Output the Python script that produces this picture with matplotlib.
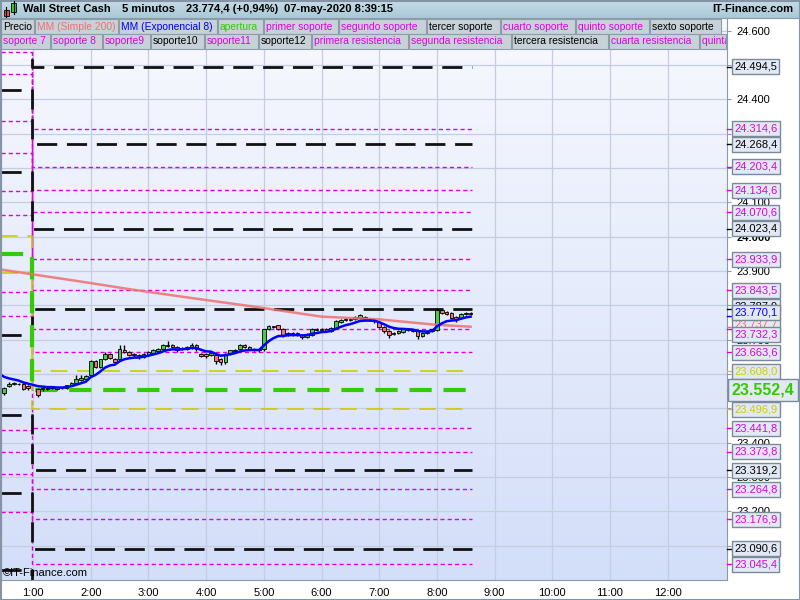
import numpy as np
import matplotlib
matplotlib.use("Agg")
import matplotlib.pyplot as plt
import matplotlib.transforms as mtransforms
from matplotlib.patches import Rectangle
from matplotlib.colors import LinearSegmentedColormap

plt.rcParams['font.family'] = ['Liberation Sans', 'DejaVu Sans']
plt.rcParams['lines.scale_dashes'] = False

# ---- data --------------------------------------------------------------
# bar index = 5-minute bars counted from 1:00 (negative = previous session)
bar_idx = list(range(-6, 0)) + list(range(1, 92))
bar_open = [23546, 23565, 23571, 23572, 23570, 23566,
            23555.0, 23555.0, 23559.8, 23557.9, 23560.8, 23557.9, 23558.8, 23566.6, 23574.4, 23581.2,
            23584.1, 23595.7, 23636.5, 23620.0, 23642.3, 23656.9, 23644.3, 23642.3, 23668.6, 23663.7,
            23658.9, 23655.9, 23649.2, 23655.9, 23661.8, 23665.7, 23673.4, 23681.2, 23685.1, 23678.3,
            23673.4, 23673.4, 23675.4, 23683.1, 23658.9, 23657.0, 23654.0, 23654.0, 23644.3, 23634.6,
            23658.9, 23665.7, 23671.5, 23683.1, 23678.3, 23673.4, 23671.5, 23673.4, 23729.7, 23738.5,
            23741.4, 23731.7, 23712.3, 23719.1, 23720.0, 23714.2, 23707.4, 23714.2, 23729.7, 23726.8,
            23729.7, 23723.9, 23733.6, 23751.1, 23756.0, 23760.8, 23758.9, 23762.8, 23765.7, 23758.9,
            23756.0, 23751.1, 23736.5, 23723.9, 23717.1, 23719.1, 23722.0, 23729.7, 23727.8, 23726.8,
            23710.3, 23719.1, 23723.9, 23726.8, 23785.1, 23780.2, 23777.3, 23765.7, 23762.8, 23775.4,
            23778.3]
bar_close = [23558, 23572, 23573, 23570, 23556, 23559,
             23539.4, 23558.8, 23556.0, 23561.8, 23556.9, 23559.8, 23566.6, 23573.4, 23584.1, 23588.0,
             23593.8, 23636.5, 23620.0, 23642.3, 23658.9, 23646.2, 23634.6, 23671.5, 23663.7, 23655.9,
             23654.0, 23649.2, 23658.9, 23663.7, 23668.6, 23673.4, 23683.1, 23685.1, 23678.3, 23668.6,
             23675.4, 23678.3, 23685.1, 23673.4, 23652.1, 23651.0, 23661.8, 23636.5, 23634.6, 23658.9,
             23668.6, 23670.5, 23683.1, 23678.3, 23673.4, 23671.5, 23668.6, 23729.7, 23738.5, 23735.6,
             23731.7, 23712.3, 23720.0, 23715.2, 23714.2, 23707.4, 23717.1, 23729.7, 23726.8, 23731.7,
             23725.9, 23733.6, 23753.0, 23757.9, 23758.9, 23756.0, 23765.7, 23770.5, 23758.9, 23756.0,
             23753.0, 23736.5, 23723.9, 23714.2, 23719.1, 23723.9, 23729.7, 23726.8, 23725.9, 23710.3,
             23720.0, 23723.0, 23729.7, 23785.1, 23778.3, 23775.4, 23762.8, 23760.8, 23775.4, 23778.3,
             23774.4]
bar_high = [23562, 23577, 23576, 23575, 23573, 23569,
            23558.8, 23561.8, 23562.5, 23564.0, 23563.0, 23562.0, 23569.0, 23577.0, 23597.7, 23598.0,
            23597.0, 23639.4, 23640.0, 23645.0, 23663.7, 23660.0, 23647.0, 23683.1, 23685.1, 23667.0,
            23662.0, 23659.0, 23661.8, 23666.0, 23672.0, 23677.0, 23686.5, 23694.8, 23688.0, 23681.0,
            23678.0, 23681.0, 23689.0, 23688.0, 23662.0, 23660.0, 23664.0, 23657.0, 23647.0, 23661.0,
            23671.0, 23673.0, 23686.0, 23686.0, 23681.0, 23676.0, 23674.0, 23732.0, 23742.0, 23741.0,
            23744.0, 23734.0, 23723.0, 23722.0, 23723.0, 23717.0, 23720.0, 23733.0, 23733.0, 23735.0,
            23733.0, 23737.0, 23756.0, 23761.0, 23762.0, 23764.0, 23769.0, 23775.0, 23768.0, 23762.0,
            23759.0, 23754.0, 23739.0, 23727.0, 23722.0, 23727.0, 23732.0, 23733.0, 23731.0, 23729.0,
            23723.0, 23726.0, 23732.0, 23792.0, 23790.0, 23783.0, 23780.0, 23768.0, 23778.0, 23781.0,
            23781.0]
bar_low = [23538, 23561, 23568, 23567, 23552, 23554,
           23532.6, 23551.0, 23553.0, 23555.5, 23554.0, 23555.8, 23556.5, 23564.0, 23571.0, 23578.5,
           23582.0, 23593.8, 23617.0, 23618.0, 23640.0, 23643.0, 23631.5, 23639.4, 23660.0, 23652.0,
           23650.0, 23642.3, 23646.5, 23653.0, 23659.5, 23663.0, 23671.0, 23679.0, 23676.0, 23665.0,
           23670.0, 23671.0, 23673.0, 23666.0, 23649.0, 23646.0, 23651.0, 23630.0, 23627.0, 23630.0,
           23656.0, 23663.0, 23669.0, 23675.0, 23670.0, 23668.0, 23665.0, 23668.0, 23727.0, 23733.0,
           23729.0, 23709.0, 23710.0, 23712.0, 23711.0, 23702.0, 23705.0, 23712.0, 23724.0, 23724.0,
           23722.0, 23721.0, 23731.0, 23749.0, 23753.0, 23753.0, 23756.0, 23760.0, 23756.0, 23753.0,
           23749.0, 23733.0, 23720.0, 23706.0, 23713.0, 23716.0, 23719.0, 23724.0, 23723.0, 23703.0,
           23708.0, 23716.0, 23721.0, 23724.0, 23775.0, 23772.0, 23759.0, 23752.0, 23760.0, 23773.0,
           23771.0]

ema_seed = 23601.0          # EMA(8) at the left edge of the chart
ema_last = 23770.1
sma_idx = [-7, 0, 10, 21, 31, 45, 60, 72, 84, 91]
sma_val = [23905, 23890, 23869, 23845, 23825, 23798, 23767, 23759, 23743, 23737.7]

# support / resistance levels: previous session -> today
black_prev = [24700.0, 24427.0, 24188.2, 23713.6, 23480.6, 23252.6, 23029.2]
black_now = [24494.5, 24268.4, 24023.4, 23787.9, 23319.2, 23090.6, 22870.0]
magenta_prev = [24680.0, 24537.7, 24473.6, 24336.8, 24243.6, 24132.9, 24063.0,
                23838.8, 23768.9, 23437.0, 23373.7, 23307.9, 23199.0]
magenta_now = [24314.6, 24203.4, 24134.6, 24070.6, 23933.9, 23843.5, 23732.3,
               23663.6, 23441.8, 23373.8, 23264.8, 23176.9, 23045.4]
yellow_prev = [24001.9, 23894.1]
yellow_now = [23608.0, 23496.9]
open_prev = 23949.4
open_now = 23552.4

hours = list(range(1, 13))
ytick_vals = list(range(23100, 24700, 100))

legend_row1 = ["Precio", "MM (Simple 200)", "MM (Exponencial 8)", "apertura", "primer soporte",
               "segundo soporte", "tercer soporte", "cuarto soporte", "quinto soporte", "sexto soporte"]
legend_row2 = ["soporte 7", "soporte 8", "soporte9", "soporte10", "soporte11", "soporte12",
               "primera resistencia", "segunda resistencia", "tercera resistencia",
               "cuarta resistencia", "quinta resistencia"]

# ---- colours -----------------------------------------------------------
BLACK = "#000000"
MAG = "#e000e0"
YEL = "#cccc00"
GRN = "#33cc00"
BLUE = "#0000ff"
SAL = "#ee7070"
colors_row1 = [BLACK, SAL, BLUE, GRN, MAG, MAG, BLACK, MAG, MAG, BLACK]
colors_row2 = [MAG, MAG, MAG, BLACK, MAG, BLACK, MAG, MAG, BLACK, MAG, MAG]
row1_x = [1, 35, 119, 218, 264, 339, 427, 501, 576, 650, 722]
row2_x = [1, 51, 103, 151, 205, 259, 312, 409, 512, 609, 700, 727]


def hx(i):
    return 1 + np.asarray(i, dtype=float) * 5 / 60


def fmt(v, dec):
    s = f"{v:,.{dec}f}"
    return s.replace(",", "X").replace(".", ",").replace("X", ".")


fig = plt.figure(figsize=(8, 6), dpi=100, facecolor="white")
ax = fig.add_axes([1 / 800, 20 / 600, 726 / 800, 563 / 600])

x_lo, x_hi = 1 + (1 - 33) / 57.7, 1 + (727 - 33) / 57.7
y_lo, y_hi = 23000, 24639.6

# background gradient
grad = np.linspace(0, 1, 256).reshape(-1, 1)
bg = LinearSegmentedColormap.from_list("bg", ["#f8f9fe", "#d3def9"])
ax.imshow(grad, cmap=bg, aspect="auto", extent=(x_lo, x_hi, y_lo, y_hi), origin="upper", zorder=0)

# grid
for h in hours:
    ax.axvline(h, color="#c5cde0", lw=0.9, zorder=0.5)
for v in ytick_vals:
    ax.axhline(v, color="#c5cde0", lw=0.9, zorder=0.5)

# level lines (step at session start)
x_step = hx(-0.3)
x_end = hx(bar_idx[-1] + 0.4)


def level(prev, now, color, lw, dashes, z=2):
    ax.plot([x_lo, x_step, x_step, x_end], [prev, prev, now, now], color=color, lw=lw,
            dashes=dashes, zorder=z, solid_capstyle="butt", dash_capstyle="butt")


for p, n in zip(magenta_prev, magenta_now):
    level(p, n, MAG, 1.0, (3, 2.2))
for p, n in zip(yellow_prev, yellow_now):
    level(p, n, YEL, 1.2, (12, 7))
for p, n in zip(black_prev, black_now):
    level(p, n, "#111111", 2.0, (14.5, 7))
level(open_prev, open_now, GRN, 3.0, (16, 8.5), z=2.2)

# candles
xs = hx(bar_idx)
o = np.array(bar_open)
c = np.array(bar_close)
ax.vlines(xs, bar_low, bar_high, color="black", lw=1, zorder=3)
ax.bar(xs, c - o, bottom=o, width=0.75 * 5 / 60,
       color=[("#46cc46" if cc >= oo else "#ee7777") for oo, cc in zip(o, c)],
       edgecolor="black", linewidth=0.6, zorder=3.2)

# moving averages
ema = [ema_seed]
for cl in bar_close:
    ema.append(ema[-1] + 2 / 9 * (cl - ema[-1]))
ax.plot(hx([-7] + bar_idx), ema, color=BLUE, lw=1.8, zorder=4)
ax.plot(hx(sma_idx), sma_val, color=SAL, lw=1.8, alpha=0.85, zorder=3.8)

ax.set_xlim(x_lo, x_hi)
ax.set_ylim(y_lo, y_hi)

# axes styling
for s in ax.spines.values():
    s.set_color("#8a9aaa")
ax.set_xticks(hours, [f"{h}:00" for h in hours])
ax.tick_params(axis="x", length=0, pad=6, labelsize=8)
ax.yaxis.tick_right()
ax.set_yticks(ytick_vals, [fmt(v, 0) for v in ytick_vals])
ax.tick_params(axis="y", length=3, color="#8a9aaa", pad=4, labelsize=8)
for lab in ax.get_yticklabels():
    if lab.get_text() == "24.000":
        lab.set_fontweight("bold")

# right-hand value tags
blend = mtransforms.blended_transform_factory(ax.transAxes, ax.transData)


def tag(v, color, dy=0, big=False, z=6):
    ax.plot([1.0, 1.0 + 5 / 726], [v, v], transform=blend, color=color, lw=1, clip_on=False, zorder=z)
    ax.annotate(fmt(v, 1), xy=(1.0, v), xycoords=blend, xytext=(7 if not big else 5, dy),
                textcoords="offset pixels", ha="left", va="center",
                fontsize=11.5 if big else 8, fontweight="bold" if big else "normal", color=color,
                bbox=dict(boxstyle="square,pad=0.22", fc="#e2e9f4", ec="#7a8a98", lw=1),
                annotation_clip=False, zorder=z)


for v in black_now:
    if y_lo < v < y_hi:
        tag(v, BLACK, dy=3 if v == 23787.9 else 0, z=6)
tag(sma_val[-1], SAL, dy=2, z=6.1)
tag(ema_last, BLUE, dy=3, z=6.2)
for v in magenta_now:
    tag(v, MAG, dy=-6 if v == 23732.3 else 0, z=6.3)
for v in yellow_now:
    tag(v, YEL, z=6.4)
tag(open_now, GRN, big=True, z=6.5)

# ---- overlay: header, legend, frame -------------------------------------
ov = fig.add_axes([0, 0, 1, 1], zorder=10)
ov.patch.set_visible(False)
hd = LinearSegmentedColormap.from_list("hd", ["#c6dde7", "#a9c8d6"])
ov.imshow(grad, cmap=hd, aspect="auto", extent=(0, 800, 18, 0), origin="upper")
ov.set_xlim(0, 800)
ov.set_ylim(600, 0)
ov.axis("off")
ov.plot([0, 800], [18, 18], color="#8a9aaa", lw=0.8)

# candle icon
ov.plot([6, 6], [7, 17], color="black", lw=0.8)
ov.add_patch(Rectangle((3.5, 10), 5, 6, fc="#ee4444", ec="black", lw=0.6))
ov.plot([13.5, 13.5], [1, 14], color="black", lw=0.8)
ov.add_patch(Rectangle((11, 3), 5, 9, fc="#33cc33", ec="black", lw=0.6))

hkw = dict(fontsize=8, fontweight="bold", va="center", color="black")
ov.text(23, 9.5, "Wall Street Cash", **hkw)
ov.text(122, 9.5, "5 minutos", **hkw)
ov.text(186, 9.5, "23.774,4 (+0,94%)", **hkw)
ov.text(284, 9.5, "07-may-2020 8:39:15", **hkw)
ov.text(793, 9.5, "IT-Finance.com", ha="right", **hkw)

clip = Rectangle((0, 0), 726, 600, transform=ov.transData)
for names, cols, xsb, y0 in [(legend_row1, colors_row1, row1_x, 19),
                             (legend_row2, colors_row2, row2_x, 34)]:
    for k, (name, col) in enumerate(zip(names, cols)):
        x0, x1 = xsb[k], xsb[k + 1]
        ov.add_patch(Rectangle((x0, y0), x1 - x0 - 1, 14.5, fc="#c7d1d8", ec="#8d9caa", lw=0.8))
        t = ov.text(x0 + 2, y0 + 7.5, name, fontsize=7.4, color=col, va="center", ha="left",
                    clip_on=True)
        t.set_clip_path(clip)

ov.text(3, 573, "\u00a9IT-Finance.com", fontsize=8, va="center", color="black")
ov.add_patch(Rectangle((0.5, 0.5), 799, 599, fill=False, ec="#8494a4", lw=1.5))

fig.savefig("out.png", dpi=100)
